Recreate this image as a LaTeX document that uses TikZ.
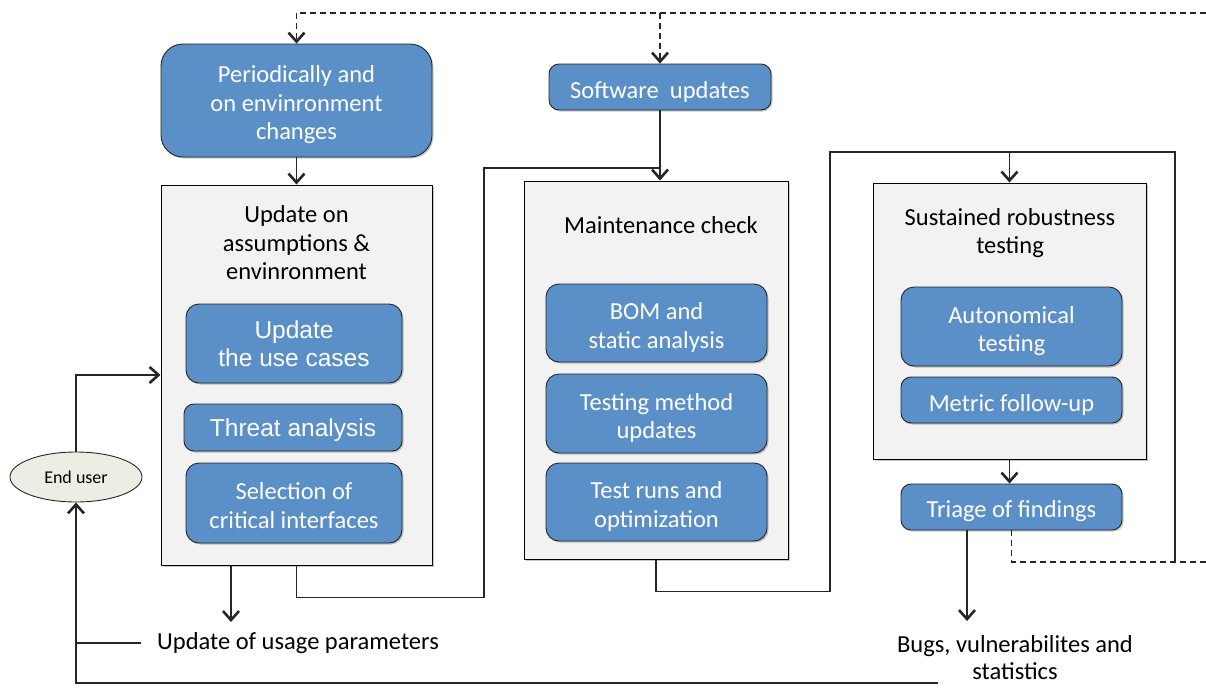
\documentclass[tikz,border=0pt]{standalone}
\usepackage{fontspec}
\setmainfont{Carlito}
\newfontfamily\arialfont{Liberation Sans}
\usetikzlibrary{arrows.meta,shadows,calc,shapes.geometric}
\definecolor{boxblue}{RGB}{91,143,199}
\definecolor{panelgray}{RGB}{242,242,242}
\definecolor{userfill}{RGB}{238,237,228}
% a tall invisible rule on the first line lowers the text inside its box
\newcommand\lowline{\rule{0pt}{26pt}}
\begin{document}
\begin{tikzpicture}[x=1pt,y=-1pt,
  txt/.style={font=\fontsize{24.5}{28.5}\selectfont, align=center, inner sep=0pt},
  shade/.style={drop shadow={shadow xshift=1.5pt, shadow yshift=-1.5pt, fill=black, opacity=0.22}},
  lift/.style={execute at begin node={\rule{0pt}{#1}}},
  bluebox/.style={txt, draw=black!85, line width=0.9pt, fill=boxblue, text=white,
    rounded corners=13pt, shade},
  arialbox/.style={bluebox, font=\arialfont\fontsize{24.5}{28}\selectfont},
  panel/.style={draw=black, line width=1pt, fill=panelgray, inner sep=0pt, shade},
  link/.style={line width=1.3pt, draw=black!85},
  arr/.style={link, -{Straight Barb[length=9pt, width=16pt, line width=2.6pt]}},
  dlink/.style={link, dash pattern=on 6pt off 4pt},
]
\useasboundingbox (0,0) rectangle (1206,689);

% ---- column 1: assumptions and environment
\node[bluebox, rounded corners=22pt, minimum width=271pt, minimum height=113pt] (per) at (296.5,100.5)
  {\lowline Periodically and\\on envinronment\\changes};
\node[panel, minimum width=271pt, minimum height=380pt] (c1) at (296.5,375) {};
\node[txt] (c1t) at (296.5,243) {\fontsize{24.5}{27}\selectfont Update on\\assumptions \&\\envinronment};
\node[arialbox, minimum width=216pt, minimum height=79pt] (uc) at (294,343.5)
  {Update\\the use cases};
\node[arialbox, lift=23pt, minimum width=218pt, minimum height=47pt, rounded corners=10pt] (ta) at (293,427.5)
  {Threat analysis};
\node[bluebox, minimum width=216pt, minimum height=80pt] (sc) at (294,503)
  {\rule{0pt}{22pt}Selection of\\critical interfaces};

% ---- column 2: maintenance
\node[bluebox, lift=26pt, rounded corners=10pt, minimum width=222pt, minimum height=46pt] (su) at (660,87)
  {Software~ updates};
\node[panel, minimum width=264pt, minimum height=378pt] (c2) at (656,370) {};
\node[txt] (c2t) at (661,225) {Maintenance check};
\node[bluebox, minimum width=221pt, minimum height=78pt] (bom) at (656.5,323)
  {\lowline BOM and\\static analysis};
\node[bluebox, minimum width=221pt, minimum height=79pt] (tm) at (656.5,413.5)
  {\lowline Testing method\\updates};
\node[bluebox, minimum width=221pt, minimum height=78pt] (tr) at (656.5,502)
  {\lowline Test runs and\\optimization};

% ---- column 3: robustness testing
\node[panel, minimum width=273pt, minimum height=276pt] (c3) at (1009.5,321) {};
\node[txt] (c3t) at (1010,233) {\fontsize{24.5}{28}\selectfont Sustained robustness\\testing};
\node[bluebox, minimum width=221pt, minimum height=79pt] (at) at (1011.5,326.5)
  {\lowline Autonomical\\testing};
\node[bluebox, lift=26pt, rounded corners=10pt, minimum width=221pt, minimum height=46pt] (mf) at (1011.5,400)
  {Metric follow-up};
\node[bluebox, lift=26pt, rounded corners=10pt, minimum width=221pt, minimum height=46pt] (tf) at (1011.5,507)
  {Triage of findings};

% ---- end user and outputs
\node[draw=black!85, line width=0.9pt, fill=userfill, ellipse, minimum width=132pt, minimum height=50pt,
  inner sep=0pt, font=\fontsize{18}{20}\selectfont] (eu) at (76,477) {End user};
\node[txt] (usage) at (298,643) {Update of usage parameters};
\node[txt, font=\fontsize{24.5}{27}\selectfont] (bugs) at (1015,658) {Bugs, vulnerabilites and\\statistics};

% ---- connection points
\coordinate (topr) at (1206,13);
\coordinate (topl) at (296.5,13);
\coordinate (j1) at (484,168);
\coordinate (j2) at (830,152);
\coordinate (j3) at (1175,562);
\coordinate (rr) at (1206,562);
\coordinate (bl) at (938,683);

% ---- connectors
\draw[dlink] (topr) -- (topl);
\draw[arr, dash pattern=on 6pt off 4pt] (topl) -- (per.north);
\draw[arr, dash pattern=on 6pt off 4pt] (su.north |- topr) -- (su.north);
\draw[arr] (per.south) -- (c1.north);
\draw[arr] (su.south) -- (su.south |- c2.north);
\draw[link] (c1.south) -- ++(0,32) -| (j1) -- (j1 -| su.south);
\draw[link] (c2.south) -- ++(0,32) -| (j2) -| (j3);
\draw[arr] (c3.north |- j2) -- (c3.north);
\draw[arr] (c3.south) -- (c3.south |- tf.north);
\draw[dlink] (tf.south) |- (rr);
\draw[arr] ([xshift=-44.5pt]tf.south) -- ([xshift=-44.5pt]tf.south |- 0,621);
\draw[arr] ([xshift=-65.5pt]c1.south) -- ([xshift=-65.5pt]c1.south |- 0,622);
\draw[arr] (eu.north) |- (c1.west);
\draw[arr] (bl) -| (eu.south);
\draw[link] ([xshift=-16pt]usage.west) -- (eu.south |- usage.west);
\end{tikzpicture}
\end{document}
